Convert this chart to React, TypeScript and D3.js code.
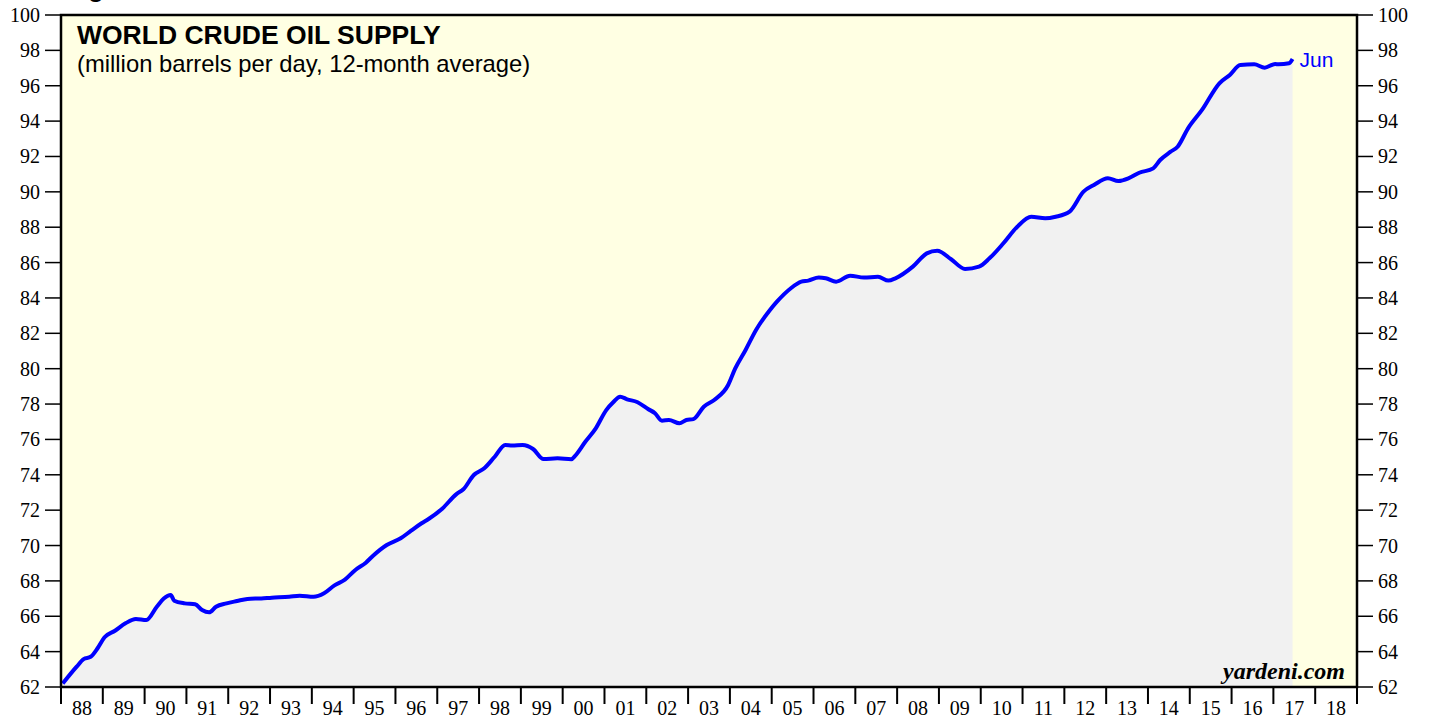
import React from "react";
import * as d3 from "d3";

// monthly points (12-month average, mb/d)
const months = [
  "1988-01", "1988-05", "1988-07", "1988-09", "1988-11",
  "1989-01", "1989-04", "1989-07", "1989-10",
  "1990-01", "1990-04", "1990-06", "1990-08", "1990-09", "1990-12",
  "1991-03", "1991-05", "1991-07", "1991-09", "1991-12",
  "1992-03", "1992-06", "1992-10",
  "1993-01", "1993-06", "1993-09",
  "1994-01", "1994-04", "1994-07", "1994-10",
  "1995-01", "1995-04", "1995-06", "1995-10",
  "1996-02", "1996-05", "1996-08", "1996-10",
  "1997-02", "1997-06", "1997-08", "1997-11",
  "1998-02", "1998-05", "1998-08", "1998-10",
  "1999-01", "1999-04", "1999-07", "1999-11",
  "2000-03", "2000-04", "2000-07", "2000-10",
  "2001-01", "2001-03", "2001-05", "2001-07", "2001-10",
  "2002-01", "2002-03", "2002-05", "2002-07", "2002-10", "2002-12",
  "2003-02", "2003-05", "2003-08", "2003-12",
  "2004-02", "2004-05", "2004-08", "2004-12",
  "2005-02", "2005-06", "2005-09", "2005-11",
  "2006-02", "2006-04", "2006-07", "2006-11",
  "2007-03", "2007-07", "2007-10", "2007-12",
  "2008-05", "2008-09", "2008-12",
  "2009-04", "2009-08", "2009-12",
  "2010-03", "2010-07", "2010-11",
  "2011-03", "2011-07", "2011-10",
  "2012-02", "2012-06", "2012-09",
  "2013-01", "2013-04", "2013-07", "2013-10",
  "2014-02", "2014-04", "2014-07", "2014-09", "2014-12",
  "2015-04", "2015-09", "2015-12",
  "2016-03", "2016-07", "2016-10",
  "2017-01", "2017-02", "2017-05", "2017-06",
];

const supply = [
  62.2, 63.15, 63.58, 63.71, 64.19,
  64.81, 65.18, 65.6, 65.85,
  65.79, 66.54, 67.0, 67.2, 66.88, 66.73,
  66.68, 66.35, 66.22, 66.54, 66.73,
  66.86, 66.98, 67.01,
  67.05, 67.1, 67.16,
  67.1, 67.3, 67.75, 68.07,
  68.62, 69.03, 69.41, 70.03,
  70.41, 70.84, 71.26, 71.5,
  72.1, 72.91, 73.18, 73.99,
  74.37, 75.02, 75.68, 75.65,
  75.68, 75.46, 74.89, 74.93,
  74.88, 75.06, 75.87, 76.63,
  77.66, 78.1, 78.42, 78.27, 78.1,
  77.72, 77.48, 77.06, 77.1, 76.91, 77.1,
  77.15, 77.85, 78.23, 79.08,
  80.0, 81.06, 82.19, 83.32,
  83.79, 84.55, 84.92, 84.98,
  85.15, 85.11, 84.92, 85.26,
  85.15, 85.2, 84.98, 85.11,
  85.77, 86.52, 86.67,
  86.19, 85.64, 85.77,
  86.24, 87.09, 88.03,
  88.59, 88.5, 88.59,
  88.88, 90.01, 90.39,
  90.77, 90.61, 90.77, 91.08,
  91.33, 91.8, 92.27, 92.55, 93.59,
  94.63, 96.14, 96.61,
  97.17, 97.21, 97.02,
  97.23, 97.21, 97.27, 97.51,
];

const yearLabels = [
  "88", "89", "90", "91", "92", "93", "94", "95", "96", "97", "98", "99",
  "00", "01", "02", "03", "04", "05", "06", "07", "08", "09", "10", "11",
  "12", "13", "14", "15", "16", "17", "18",
];

const yTicks = d3.range(62, 101, 2);

const W = 1429;
const H = 721;
const left = 61;
const right = 1357;
const top = 15;
const bottom = 687;

const toYear = (s: string) => {
  const [y, m] = s.split("-").map(Number);
  return y + (m - 0.5) / 12;
};

export default function App() {
  const x = d3.scaleLinear().domain([1988, 2019]).range([left, right]);
  const y = d3.scaleLinear().domain([62, 100]).range([bottom, top]);

  const pts = months.map((m, i) => ({ t: toYear(m), v: supply[i] }));

  const line = d3
    .line<{ t: number; v: number }>()
    .x((d) => x(d.t))
    .y((d) => y(d.v))
    .curve(d3.curveMonotoneX);

  const area = d3
    .area<{ t: number; v: number }>()
    .x((d) => x(d.t))
    .y0(bottom)
    .y1((d) => y(d.v))
    .curve(d3.curveMonotoneX);

  const last = pts[pts.length - 1];
  const serif = "'Liberation Serif', 'Times New Roman', serif";
  const sans = "'Liberation Sans', Arial, Helvetica, sans-serif";

  return (
    <svg
      width={W}
      height={H}
      style={{ position: "absolute", left: 0, top: 0, background: "#fff" }}
    >
      <text x={65} y={-3} fontFamily={sans} fontWeight="bold" fontSize={26}>
        Figure
      </text>

      {/* plot background */}
      <rect x={left} y={top} width={right - left} height={bottom - top} fill="#ffffe3" />
      <path d={area(pts) ?? ""} fill="#f1f1f1" />
      <path d={line(pts) ?? ""} fill="none" stroke="#0000ff" strokeWidth={4} strokeLinejoin="round" />

      {/* frame */}
      <rect
        x={left}
        y={top}
        width={right - left}
        height={bottom - top}
        fill="none"
        stroke="#000"
        strokeWidth={2.5}
      />

      {/* y axes both sides */}
      {yTicks.map((t) => (
        <g key={t}>
          <line x1={left - 16} x2={left} y1={y(t)} y2={y(t)} stroke="#000" strokeWidth={1.5} />
          <line x1={right} x2={right + 16} y1={y(t)} y2={y(t)} stroke="#000" strokeWidth={1.5} />
          <text
            x={40}
            y={y(t)}
            dy="0.35em"
            textAnchor="end"
            fontFamily={serif}
            fontSize={20}
          >
            {t}
          </text>
          <text x={1378} y={y(t)} dy="0.35em" fontFamily={serif} fontSize={20}>
            {t}
          </text>
        </g>
      ))}

      {/* x axis */}
      {d3.range(1988, 2020).map((yr) => (
        <line
          key={yr}
          x1={x(yr)}
          x2={x(yr)}
          y1={bottom}
          y2={bottom + 17}
          stroke="#000"
          strokeWidth={2}
        />
      ))}
      {yearLabels.map((lab, i) => (
        <text
          key={lab + i}
          x={x(1988 + i + 0.5)}
          y={715}
          textAnchor="middle"
          fontFamily={serif}
          fontSize={20}
        >
          {lab}
        </text>
      ))}

      {/* titles */}
      <text x={77} y={44} fontFamily={sans} fontWeight="bold" fontSize={26.5}>
        WORLD CRUDE OIL SUPPLY
      </text>
      <text x={77} y={72} fontFamily={sans} fontSize={23.8}>
        (million barrels per day, 12-month average)
      </text>

      <text x={x(last.t) + 7} y={67} fill="#0000ff" fontFamily={sans} fontSize={21}>
        Jun
      </text>

      <text
        x={1345}
        y={679}
        textAnchor="end"
        fontFamily={serif}
        fontStyle="italic"
        fontWeight="bold"
        fontSize={24}
      >
        yardeni.com
      </text>
    </svg>
  );
}
